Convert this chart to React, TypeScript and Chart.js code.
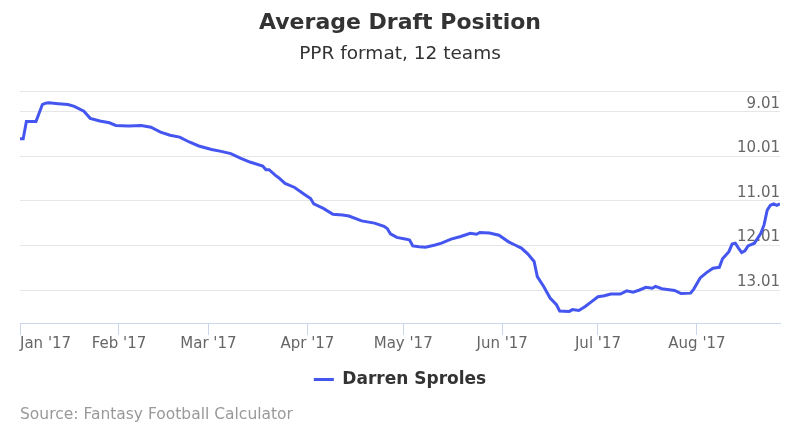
import React, { useEffect, useRef } from "react";
import { Chart, registerables } from "chart.js";

Chart.register(...registerables);

const monthLabels = ["Jan '17", "Feb '17", "Mar '17", "Apr '17", "May '17", "Jun '17", "Jul '17", "Aug '17"];
const monthStartDays = [0, 31, 59, 90, 120, 151, 181, 212];
const lastDay = 238;
const yTickValues = [9.01, 10.01, 11.01, 12.01, 13.01];
const yMin = 8.56;
const yMax = 13.75;

// day of year (0 = Jan 1, 2017)
const days = [
  0, 1, 2, 5, 7, 8, 9, 12, 15, 17, 20, 22, 25, 28, 30, 34, 38, 41, 44, 47,
  50, 53, 56, 60, 63, 66, 69, 72, 76, 77, 78, 80, 81, 83, 86, 89, 91, 92, 95, 98,
  101, 103, 107, 111, 114, 115, 116, 118, 121, 122, 123, 125, 127, 130, 132, 135, 138, 141, 143, 144,
  147, 150, 153, 155, 157, 159, 161, 162, 164, 166, 168, 169, 172, 173, 175, 177, 179, 181, 183, 185,
  188, 190, 192, 194, 196, 198, 199, 201, 205, 207, 210, 211, 213, 215, 217, 219, 220, 222, 223, 224,
  225, 226, 227, 228, 230, 232, 233, 234, 235, 236, 237, 238,
];

// average draft position
const adp = [
  9.62, 9.62, 9.23, 9.23, 8.85, 8.82, 8.81, 8.83, 8.85, 8.89, 9.0, 9.16, 9.22, 9.26, 9.32, 9.33, 9.32, 9.36, 9.47, 9.54,
  9.58, 9.69, 9.78, 9.86, 9.9, 9.95, 10.05, 10.14, 10.23, 10.31, 10.31, 10.44, 10.49, 10.62, 10.71, 10.86, 10.96, 11.08, 11.18, 11.31,
  11.33, 11.35, 11.46, 11.51, 11.58, 11.63, 11.75, 11.83, 11.87, 11.89, 12.02, 12.04, 12.05, 12.0, 11.96, 11.87, 11.81, 11.74, 11.76, 11.72,
  11.73, 11.78, 11.93, 12.0, 12.07, 12.2, 12.37, 12.71, 12.93, 13.19, 13.34, 13.48, 13.49, 13.45, 13.47, 13.38, 13.27, 13.16, 13.14, 13.1,
  13.1, 13.03, 13.06, 13.01, 12.95, 12.97, 12.93, 12.98, 13.02, 13.09, 13.08, 12.99, 12.74, 12.62, 12.52, 12.5, 12.31, 12.15, 11.98, 11.96,
  12.07, 12.17, 12.13, 12.02, 11.96, 11.74, 11.55, 11.22, 11.11, 11.08, 11.11, 11.08,
];

const seriesName = "Darren Sproles";
const FONT = "'DejaVu Sans', 'Verdana', sans-serif";

export default function App() {
  const canvasRef = useRef<HTMLCanvasElement | null>(null);

  useEffect(() => {
    if (!canvasRef.current) return;
    Chart.defaults.font.family = FONT;
    const chart = new Chart(canvasRef.current, {
      type: "line",
      data: {
        datasets: [
          {
            label: seriesName,
            data: days.map((d, i) => ({ x: d, y: adp[i] })),
            borderColor: "#4456ef",
            backgroundColor: "#4456ef",
            borderWidth: 3,
            pointRadius: 0,
            pointHoverRadius: 0,
            tension: 0,
            fill: false,
          },
        ],
      },
      options: {
        responsive: false,
        animation: false,
        devicePixelRatio: 1,
        layout: { padding: { left: 20, right: 20, top: 0, bottom: 42 } },
        scales: {
          x: {
            type: "linear",
            min: 0,
            max: lastDay,
            afterBuildTicks: (scale: any) => {
              scale.ticks = [...monthStartDays, lastDay].map((v) => ({ value: v }));
            },
            ticks: {
              autoSkip: false,
              maxRotation: 0,
              minRotation: 0,
              align: "inner",
              padding: 0,
              color: "#666666",
              font: { size: 15 },
              callback: (_v: any, index: number) => (index < monthLabels.length ? monthLabels[index] : ""),
            },
            grid: {
              drawOnChartArea: false,
              drawTicks: true,
              tickLength: 12,
              tickWidth: 1,
              tickColor: (ctx: any) => (ctx.index < monthLabels.length ? "#ccd6eb" : "rgba(0,0,0,0)"),
            },
            border: { display: true, color: "#ccd6eb", width: 1 },
          },
          y: {
            type: "linear",
            position: "right",
            reverse: true,
            min: yMin,
            max: yMax,
            afterBuildTicks: (scale: any) => {
              scale.ticks = [yMin, ...yTickValues].map((v) => ({ value: v }));
            },
            ticks: {
              mirror: true,
              padding: 0,
              labelOffset: -8,
              color: "#666666",
              font: { size: 15 },
              callback: (_v: any, index: number) => (index === 0 ? "" : yTickValues[index - 1].toFixed(2)),
            },
            grid: { color: "#e6e6e6", lineWidth: 1, drawTicks: false },
            border: { display: false },
          },
        },
        plugins: {
          title: {
            display: true,
            text: "Average Draft Position",
            color: "#333333",
            font: { size: 22, weight: "bold" },
            padding: { top: 10, bottom: 3 },
          },
          subtitle: {
            display: true,
            text: "PPR format, 12 teams",
            color: "#333333",
            font: { size: 18.5, weight: "normal" },
            padding: { top: 4, bottom: 26 },
          },
          legend: {
            display: true,
            position: "bottom",
            labels: {
              usePointStyle: true,
              pointStyle: "line",
              pointStyleWidth: 20,
              color: "#333333",
              font: { size: 17, weight: "bold" },
              padding: 18,
            },
          },
          tooltip: { enabled: false },
        },
      } as any,
    });
    return () => chart.destroy();
  }, []);

  return (
    <div style={{ position: "absolute", left: 0, top: 0, width: 800, height: 440, background: "#ffffff" }}>
      <canvas ref={canvasRef} width={800} height={440} style={{ display: "block", width: 800, height: 440 }} />
      <div
        style={{
          position: "absolute",
          left: 20,
          top: 405,
          fontFamily: FONT,
          fontSize: 15.5,
          lineHeight: "18px",
          color: "#999999",
          whiteSpace: "nowrap",
        }}
      >
        Source: Fantasy Football Calculator
      </div>
    </div>
  );
}
